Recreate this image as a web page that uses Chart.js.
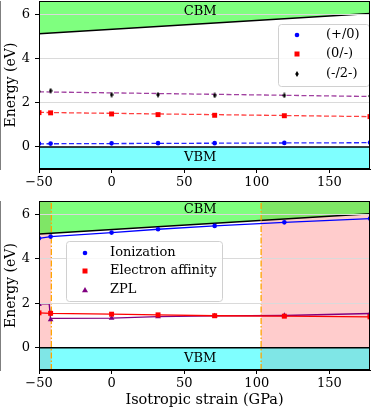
<!DOCTYPE html>
<html>
<head>
<meta charset="utf-8">
<script src="https://cdn.jsdelivr.net/npm/chart.js"></script>
<style>
body { margin: 0; background: #fff; }
#top_box { position: absolute; left: 0; top: 0; }
#bottom_box { position: absolute; left: 0; top: 190px; }
</style>
</head>
<body>
<div id="top_box"><canvas id="top_chart" width="371" height="190"></canvas></div>
<div id="bottom_box"><canvas id="bottom_chart" width="371" height="219"></canvas></div>
<script>
// strain points (GPa)
const strain = [-50, -42, 0, 32, 71, 119, 178]

// top panel: charge transition levels (eV)
const plus_zero = [0.15, 0.15, 0.16, 0.17, 0.17, 0.18, 0.20]
const zero_minus = [1.55, 1.54, 1.49, 1.46, 1.43, 1.41, 1.37]
const minus_2minus = [2.51, 2.54, 2.36, 2.36, 2.33, 2.33, 2.30]

// linear fits (end points)
const fit_x = [-50, 178]
const plus_zero_fit = [0.14, 0.19]
const zero_minus_fit = [1.56, 1.37]
const minus_2minus_fit = [2.49, 2.28]

// band edges
const cbm_x = [-50, 178]
const cbm = [5.12, 6.03]
const vbm = [0, 0]

// bottom panel (eV)
const ionization = [4.92, 5.00, 5.18, 5.33, 5.48, 5.64, 5.81]
const affinity = [1.57, 1.55, 1.51, 1.48, 1.44, 1.42, 1.39]
const zpl = [1.95, 1.27, 1.33, 1.40, 1.43, 1.45, 1.54]
const zpl_line_x = [-50, -43, -42, -41, 0, 32, 71, 119, 178]
const zpl_line = [1.98, 1.98, 1.25, 1.32, 1.33, 1.40, 1.43, 1.45, 1.54]

// shaded strain ranges and their limits
const span_ranges = [[-50, -41.5], [103, 178]]
const limit_x = [-41.5, 103]

const x_ticks = [-50, 0, 50, 100, 150]
const y_ticks = [0, 2, 4, 6]

const pts = (xs, ys) => xs.map((x, i) => ({x: x, y: ys[i]}))

Chart.defaults.font.family = "'DejaVu Serif', serif"
Chart.defaults.font.size = 13
Chart.defaults.color = '#000'

const thin_diamond = (() => {
    const c = document.createElement('canvas')
    c.width = 4; c.height = 6
    const g = c.getContext('2d')
    g.fillStyle = '#000'
    g.beginPath()
    g.moveTo(2, 0); g.lineTo(3.8, 3); g.lineTo(2, 6); g.lineTo(0.2, 3)
    g.closePath(); g.fill()
    return c
})()

const draw_marker = (ctx, style, color, x, y) => {
    ctx.fillStyle = color
    ctx.beginPath()
    if (style === 'circle') ctx.arc(x, y, 2.3, 0, Math.PI * 2)
    else if (style === 'rect') ctx.rect(x - 2.5, y - 2.5, 5, 5)
    else if (style === 'triangle') { ctx.moveTo(x, y - 3); ctx.lineTo(x + 3, y + 2.2); ctx.lineTo(x - 3, y + 2.2); ctx.closePath() }
    else if (style === 'diamond') { ctx.drawImage(thin_diamond, x - 2, y - 3); return }
    ctx.fill()
}

const frame_plugin = {
    id: 'frame_plugin',
    beforeDatasetsDraw(chart, args, opts) {
        const {ctx, chartArea, scales} = chart
        if (!opts.spans) return
        ctx.save()
        ctx.fillStyle = 'rgba(255, 0, 0, 0.2)'
        opts.spans.forEach((s) => {
            const x0 = scales.x.getPixelForValue(s[0])
            const x1 = scales.x.getPixelForValue(s[1])
            ctx.fillRect(x0, chartArea.top, x1 - x0, chartArea.bottom - chartArea.top)
        })
        ctx.restore()
    },
    afterDraw(chart, args, opts) {
        const {ctx, chartArea, scales} = chart
        ctx.save()
        // band labels
        ctx.fillStyle = '#000'
        ctx.font = "13px 'DejaVu Serif'"
        ctx.textAlign = 'center'
        ctx.textBaseline = 'middle'
        opts.labels.forEach((l) => {
            ctx.fillText(l.text, scales.x.getPixelForValue(l.x), scales.y.getPixelForValue(l.y))
        })
        // legend
        const lg = opts.legend
        ctx.fillStyle = 'rgba(255, 255, 255, 0.8)'
        ctx.strokeStyle = '#d0d0d0'
        ctx.lineWidth = 1
        ctx.beginPath()
        ctx.roundRect(lg.x + 0.5, lg.y + 0.5, lg.w, lg.h, 3)
        ctx.fill(); ctx.stroke()
        ctx.textAlign = 'left'
        lg.items.forEach((it, i) => {
            const y = lg.rows[i]
            draw_marker(ctx, it.style, it.color, lg.marker_x, y)
            ctx.fillStyle = '#000'
            ctx.fillText(it.label, lg.text_x, y)
        })
        // axes frame
        ctx.strokeStyle = '#000'
        ctx.lineWidth = 1
        ctx.strokeRect(chartArea.left + 0.5, chartArea.top + 0.5, chartArea.right - chartArea.left - 1, chartArea.bottom - chartArea.top - 1)
        ctx.restore()
    }
}

const make_scales = (x_height, show_x_title) => ({
    x: {
        type: 'linear', min: -50, max: 178,
        afterBuildTicks: (axis) => { axis.ticks = x_ticks.map((v) => ({value: v})) },
        afterFit: (axis) => { axis.height = x_height; axis.paddingLeft = 0; axis.paddingRight = 0 },
        ticks: { callback: (v) => String(v).replace('-', '\u2212'), padding: 2, maxRotation: 0, font: {size: 13} },
        grid: { drawOnChartArea: false, tickLength: 4, tickColor: '#000' },
        border: { color: '#000' },
        title: { display: show_x_title, text: 'Isotropic strain (GPa)', font: {size: 14.5}, padding: {top: 0, bottom: 0} }
    },
    y: {
        min: -1, max: 6.6,
        afterBuildTicks: (axis) => { axis.ticks = y_ticks.map((v) => ({value: v})) },
        afterFit: (axis) => { axis.width = 39; axis.paddingTop = 0; axis.paddingBottom = 0 },
        ticks: { padding: 5, font: {size: 13} },
        grid: { color: (c) => c.tick && c.tick.value === 0 ? 'rgba(0,0,0,0)' : '#dadada', tickLength: 4, tickColor: '#000', z: 1 },
        border: { color: '#000' },
        title: { display: true, text: 'Energy (eV)', font: {size: 14}, padding: {top: 3, bottom: 0} }
    }
})

const band_sets = () => [{
    data: pts(cbm_x, cbm), borderColor: '#000', borderWidth: 1.5, pointRadius: 0,
    fill: 'end', backgroundColor: 'rgba(0, 255, 0, 0.5)', order: 10
}, {
    data: pts(cbm_x, vbm), borderColor: '#000', borderWidth: 1.5, pointRadius: 0,
    fill: 'start', backgroundColor: 'rgba(0, 255, 255, 0.5)', order: 10
}]

const marker_set = (ys, style, color) => ({
    data: pts(strain, ys), showLine: false, pointStyle: style,
    pointRadius: style === 'rect' ? 3.5 : (style === 'triangle' ? 3.3 : 2.3),
    pointBackgroundColor: color, pointBorderWidth: 0, clip: 0, order: 0
})

const fit_set = (ys, color) => ({
    data: pts(fit_x, ys), borderColor: color, borderWidth: 1.3, borderDash: [5, 2.5],
    pointRadius: 0, order: 1
})

const top_config = {
    type: 'line',
    data: {
        datasets: [
            ...band_sets(),
            fit_set(plus_zero_fit, 'rgba(0, 0, 255, 0.85)'),
            fit_set(zero_minus_fit, 'rgba(255, 0, 0, 0.75)'),
            fit_set(minus_2minus_fit, 'rgba(128, 0, 128, 0.75)'),
            marker_set(plus_zero, 'circle', '#0000ff'),
            marker_set(zero_minus, 'rect', '#ff0000'),
            marker_set(minus_2minus, thin_diamond, '#000')
        ]
    },
    options: {
        responsive: false, animation: false,
        layout: { autoPadding: false, padding: {top: 1, right: 1, left: 0, bottom: 0} },
        scales: make_scales(21, false),
        plugins: {
            legend: { display: false }, tooltip: { enabled: false },
            frame_plugin: {
                labels: [{text: 'CBM', x: 61, y: 6.12}, {text: 'VBM', x: 61, y: -0.5}],
                legend: {
                    x: 278, y: 24, w: 91, h: 62, marker_x: 297, text_x: 326, rows: [35, 54, 74],
                    items: [
                        {label: '(+/0)', style: 'circle', color: '#0000ff'},
                        {label: '(0/-)', style: 'rect', color: '#ff0000'},
                        {label: '(-/2-)', style: 'diamond', color: '#000'}
                    ]
                }
            }
        }
    },
    plugins: [frame_plugin]
}

const bottom_config = {
    type: 'line',
    data: {
        datasets: [
            ...band_sets(),
            ...limit_x.map((x) => ({
                data: [{x: x, y: -1}, {x: x, y: 6.6}], borderColor: '#ffa500', borderWidth: 1.3,
                borderDash: [6, 2, 1.5, 2], pointRadius: 0, order: 2
            })),
            { data: pts(strain, ionization), borderColor: '#0000ff', borderWidth: 1.3, pointRadius: 0, order: 1 },
            { data: pts(strain, affinity), borderColor: '#ff0000', borderWidth: 1.3, pointRadius: 0, order: 1 },
            { data: pts(zpl_line_x, zpl_line), borderColor: '#800080', borderWidth: 1.3, pointRadius: 0, order: 1 },
            marker_set(ionization, 'circle', '#0000ff'),
            marker_set(affinity, 'rect', '#ff0000'),
            marker_set(zpl, 'triangle', '#800080')
        ]
    },
    options: {
        responsive: false, animation: false,
        layout: { autoPadding: false, padding: {top: 11, right: 1, left: 0, bottom: 0} },
        scales: make_scales(39, true),
        plugins: {
            legend: { display: false }, tooltip: { enabled: false },
            frame_plugin: {
                spans: span_ranges,
                labels: [{text: 'CBM', x: 61, y: 6.2}, {text: 'VBM', x: 61, y: -0.5}],
                legend: {
                    x: 66, y: 51, w: 156, h: 60, marker_x: 85, text_x: 110, rows: [63, 81, 100],
                    items: [
                        {label: 'Ionization', style: 'circle', color: '#0000ff'},
                        {label: 'Electron affinity', style: 'rect', color: '#ff0000'},
                        {label: 'ZPL', style: 'triangle', color: '#800080'}
                    ]
                }
            }
        }
    },
    plugins: [frame_plugin]
}

var top_chart = new Chart(document.getElementById('top_chart'), top_config)
var bottom_chart = new Chart(document.getElementById('bottom_chart'), bottom_config)
</script>
</body>
</html>
